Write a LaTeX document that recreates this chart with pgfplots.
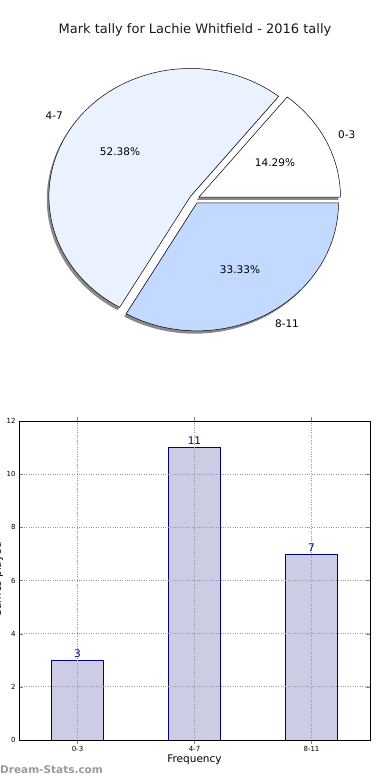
\documentclass[border=0pt]{standalone}
\usepackage{pgfplots}
\pgfplotsset{compat=1.18}
\usepackage{fontspec}
\setmainfont{DejaVu Sans}
\definecolor{cA}{HTML}{FFFFFF}
\definecolor{cB}{HTML}{EAF1FF}
\definecolor{cC}{HTML}{C4D9FF}
\definecolor{barfill}{HTML}{CCCCE5}
\definecolor{baredge}{HTML}{000080}
\definecolor{shadowc}{HTML}{8A8A8A}

% data
\pgfmathsetmacro{\vA}{3}
\pgfmathsetmacro{\vB}{11}
\pgfmathsetmacro{\vC}{7}
\pgfmathsetmacro{\tot}{\vA+\vB+\vC}
\pgfmathsetmacro{\sA}{0}
\pgfmathsetmacro{\eA}{360*\vA/\tot}
\pgfmathsetmacro{\sB}{\eA}
\pgfmathsetmacro{\eB}{\eA+360*\vB/\tot}
\pgfmathsetmacro{\sC}{\eB}
\pgfmathsetmacro{\eC}{360}
\pgfmathsetmacro{\ex}{0.035}
\pgfmathsetmacro{\oxA}{\ex*cos((\sA+\eA)/2)}
\pgfmathsetmacro{\oyA}{\ex*sin((\sA+\eA)/2)}
\pgfmathsetmacro{\oxB}{\ex*cos((\sB+\eB)/2)}
\pgfmathsetmacro{\oyB}{\ex*sin((\sB+\eB)/2)}
\pgfmathsetmacro{\oxC}{\ex*cos((\sC+\eC)/2)}
\pgfmathsetmacro{\oyC}{\ex*sin((\sC+\eC)/2)}
\pgfmathsetmacro{\shx}{-0.015}
\pgfmathsetmacro{\shy}{-0.022}

\newcommand{\pieshadow}[4]{%
  \addplot[draw=none, fill=shadowc, domain=#1:#2, samples=80, smooth]
    ({#3+\shx+cos(x)},{#4+\shy+sin(x)}) -- (axis cs:{#3+\shx},{#4+\shy}) -- cycle;}
\newcommand{\piewedge}[5]{%
  \addplot[draw=black, line width=0.5pt, fill=#5, domain=#1:#2, samples=80, smooth]
    ({#3+cos(x)},{#4+sin(x)}) -- (axis cs:{#3},{#4}) -- cycle;}

\begin{document}
\begin{tikzpicture}
\useasboundingbox (0pt,0pt) rectangle (390pt,780pt);

\node[font=\fontsize{13}{15}\selectfont, text=black!90] at (195pt,750pt) {Mark tally for Lachie Whitfield - 2016 tally};

% ---------- pie ----------
\begin{axis}[at={(194.5pt,581pt)}, anchor=center, scale only axis,
  width=367.9pt, height=332.8pt,
  xmin=-1.3, xmax=1.3, ymin=-1.3, ymax=1.3, hide axis, clip=false]
  \pieshadow{\sA}{\eA}{\oxA}{\oyA}
  \pieshadow{\sB}{\eB}{\oxB}{\oyB}
  \pieshadow{\sC}{\eC}{\oxC}{\oyC}
  \piewedge{\sA}{\eA}{\oxA}{\oyA}{cA}
  \piewedge{\sB}{\eB}{\oxB}{\oyB}{cB}
  \piewedge{\sC}{\eC}{\oxC}{\oyC}{cC}
\end{axis}

\begin{scope}[every node/.style={font=\fontsize{10.5}{12}\selectfont, inner sep=0pt}]
  \node[anchor=west] at (338pt,645pt) {0-3};
  \node[anchor=east] at (63pt,664pt) {4-7};
  \node at (287pt,456pt) {8-11};
  \node at (275pt,617pt) {14.29\%};
  \node at (120pt,628pt) {52.38\%};
  \node at (240pt,510pt) {33.33\%};
\end{scope}

% ---------- bar chart ----------
\begin{axis}[at={(19pt,40pt)}, anchor=south west, scale only axis,
  width=351pt, height=319pt,
  xmin=-0.5, xmax=2.5, ymin=0, ymax=12,
  xtick={0,1,2}, xticklabels={0-3,4-7,8-11},
  ytick={0,2,4,6,8,10,12},
  grid=major, grid style={dotted, black!40, line width=0.7pt},
  axis on top,
  tick align=inside, major tick length=4pt,
  tick label style={font=\fontsize{7}{8}\selectfont},
  /pgf/number format/assume math mode=true,
  xticklabel style={yshift=1pt},
  xlabel={Frequency}, xlabel style={font=\fontsize{10.5}{12}\selectfont, yshift=4pt},
  axis line style={black, line width=0.6pt},
  ybar, bar width=52pt,
  nodes near coords,
  nodes near coords style={font=\fontsize{10.5}{12}\selectfont, text=baredge, inner sep=2.5pt},
  clip=false]
  \addplot[fill=barfill, draw=baredge, line width=0.6pt] coordinates {(0,3) (1,11) (2,7)};
\end{axis}

\node[rotate=90, anchor=base, font=\fontsize{10.5}{12}\selectfont] at (0.8pt,200pt) {Games played};

\node[anchor=west, font=\bfseries\fontsize{10.5}{12}\selectfont, text=black!40, inner sep=0pt] at (0pt,10pt) {Dream-Stats.com};
\end{tikzpicture}
\end{document}
